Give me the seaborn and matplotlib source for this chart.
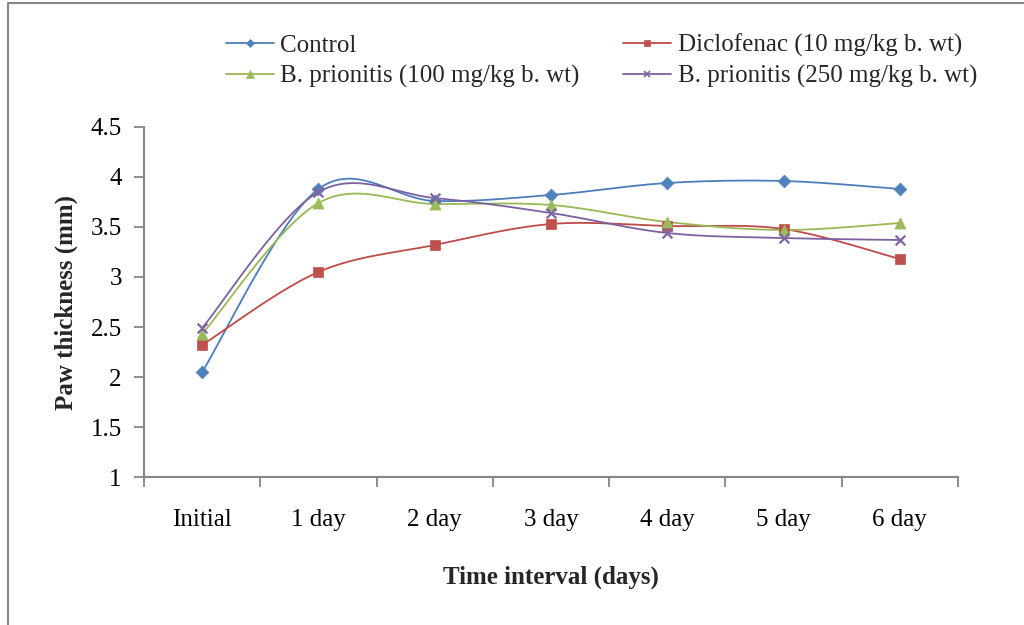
import numpy as np
import pandas as pd
import matplotlib
matplotlib.use("Agg")
import matplotlib.pyplot as plt
from matplotlib.lines import Line2D
from matplotlib.ticker import FixedLocator, FuncFormatter
import seaborn as sns

categories = ["Initial", "1 day", "2 day", "3 day", "4 day", "5 day", "6 day"]
control = [2.05, 3.88, 3.76, 3.82, 3.94, 3.96, 3.88]
diclofenac = [2.32, 3.05, 3.32, 3.53, 3.51, 3.48, 3.18]
bp100 = [2.43, 3.74, 3.73, 3.72, 3.55, 3.47, 3.54]
bp250 = [2.49, 3.85, 3.79, 3.64, 3.44, 3.39, 3.37]
series_names = ["Control", "Diclofenac (10 mg/kg b. wt)",
                "B. prionitis (100 mg/kg b. wt)", "B. prionitis (250 mg/kg b. wt)"]
y_ticks = [1, 1.5, 2, 2.5, 3, 3.5, 4, 4.5]

series = [control, diclofenac, bp100, bp250]
line_colors = ["#4A7EBB", "#BE4B48", "#98B954", "#7D60A0"]
marker_colors = ["#4F81BD", "#C0504D", "#9BBB59", "#8064A2"]
markers = ["D", "s", "^", "x"]
msizes = [6.5, 7, 8, 7]

sns.set_theme(style="white")
plt.rcParams["font.family"] = ["Liberation Serif", "DejaVu Serif"]


def smooth(xs, ys, n=40):
    """Excel-like smoothed line (Catmull-Rom Bezier) through the points."""
    xs = np.asarray(xs, float); ys = np.asarray(ys, float)
    P = np.column_stack([xs, ys])
    out = []
    for i in range(len(P) - 1):
        p0 = P[i - 1] if i > 0 else P[i]
        p1, p2 = P[i], P[i + 1]
        p3 = P[i + 2] if i + 2 < len(P) else P[i + 1]
        c1 = p1 + (p2 - p0) / 6.0
        c2 = p2 - (p3 - p1) / 6.0
        t = np.linspace(0, 1, n, endpoint=(i == len(P) - 2))[:, None]
        pts = ((1 - t) ** 3) * p1 + 3 * ((1 - t) ** 2) * t * c1 + 3 * (1 - t) * t ** 2 * c2 + t ** 3 * p2
        out.append(pts)
    return np.vstack(out)


xpos = np.arange(len(categories))
curve_rows = []
point_rows = []
for name, vals in zip(series_names, series):
    pts = smooth(xpos, vals)
    for k, (x, y) in enumerate(pts):
        curve_rows.append({"series": name, "x": x, "y": y, "order": k})
    for x, y in zip(xpos, vals):
        point_rows.append({"series": name, "x": x, "y": y})
curves = pd.DataFrame(curve_rows)
points = pd.DataFrame(point_rows)

FS = 18
fig = plt.figure(figsize=(10.24, 6.25), dpi=100)
ax = fig.add_axes([144 / 1024, 1 - 477 / 625, (958 - 144) / 1024, (477 - 127) / 625])

sns.lineplot(data=curves, x="x", y="y", hue="series", hue_order=series_names,
             palette=dict(zip(series_names, line_colors)), sort=False,
             estimator=None, units="series", linewidth=1.3, legend=False, ax=ax)
for name, mk, col, ms in zip(series_names, markers, marker_colors, msizes):
    sub = points[points["series"] == name]
    if mk == "x":
        sns.scatterplot(data=sub, x="x", y="y", marker="x", color=col, s=ms ** 2,
                        linewidth=1.6, legend=False, ax=ax, zorder=5)
    else:
        sns.scatterplot(data=sub, x="x", y="y", marker=mk, color=col, s=ms ** 2,
                        edgecolor=col, linewidth=0.5, legend=False, ax=ax, zorder=5)

ax.set_xlim(-0.5, len(categories) - 0.5)
ax.set_ylim(1, 4.5)
ax.set_xticks(xpos)
ax.set_xticklabels(categories, fontsize=FS)
ax.xaxis.set_minor_locator(FixedLocator(np.arange(-0.5, len(categories), 1.0)))
ax.tick_params(axis="x", which="major", length=0, pad=23, labelcolor="black")
ax.tick_params(axis="x", which="minor", length=7, width=1.3, color="#868686", direction="out", bottom=True)
ax.set_yticks(y_ticks)
ax.yaxis.set_major_formatter(FuncFormatter(lambda v, p: f"{v:g}"))
ax.tick_params(axis="y", which="major", length=7, width=1.3, color="#868686",
               direction="out", left=True, labelsize=FS, pad=9, labelcolor="black")
for s in ["top", "right"]:
    ax.spines[s].set_visible(False)
for s in ["left", "bottom"]:
    ax.spines[s].set_color("#868686")
    ax.spines[s].set_linewidth(1.5)
ax.grid(False)

ax.set_xlabel("Time interval (days)", fontsize=FS, fontweight="bold", labelpad=25)
ax.set_ylabel("Paw thickness (mm)", fontsize=FS, fontweight="bold", labelpad=9)

handles = [Line2D([0], [0], color=lc, marker=mk, markersize=ms * 0.7, markerfacecolor=mc,
                  markeredgecolor=mc, lw=1.3, markeredgewidth=1.2 if mk == "x" else 0.5)
           for lc, mc, mk, ms in zip(line_colors, marker_colors, markers, msizes)]
order = [0, 2, 1, 3]
fig.legend([handles[i] for i in order], [series_names[i] for i in order],
           loc="upper left", bbox_to_anchor=(226 / 1024, 1 - 34 / 625), ncol=2,
           frameon=False, fontsize=FS, handlelength=1.92, handletextpad=0.25,
           columnspacing=1.75, labelspacing=0.32, borderpad=0, borderaxespad=0)

fig.add_artist(Line2D([8 / 1024, 8 / 1024, 1.0], [0, 1 - 3 / 625, 1 - 3 / 625],
                      transform=fig.transFigure, color="#868686", lw=1.5))

fig.savefig("out.png", dpi=100)
